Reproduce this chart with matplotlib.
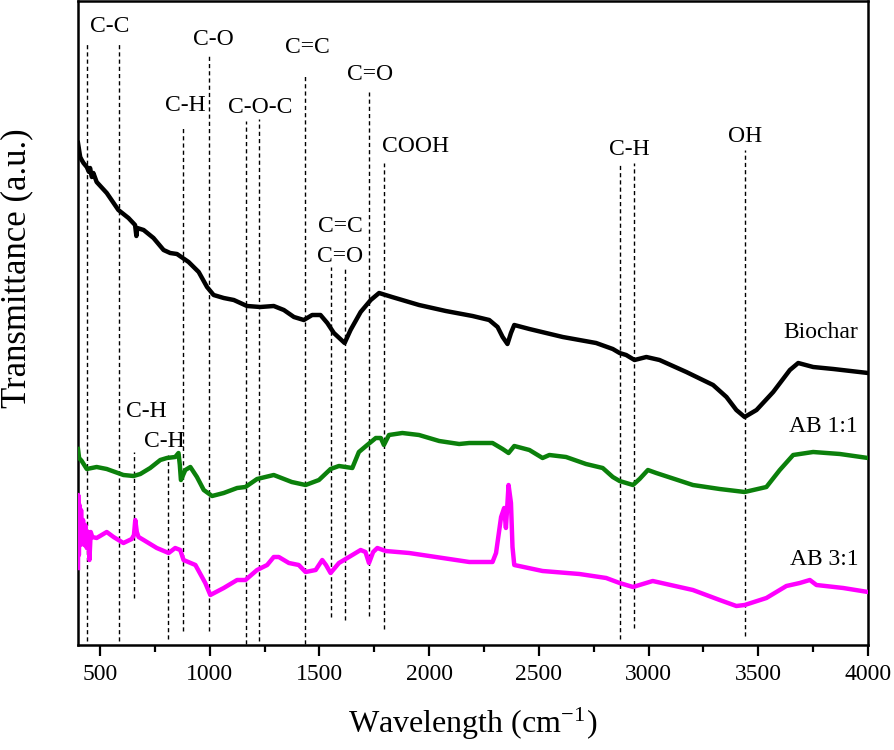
import matplotlib
matplotlib.use("Agg")
import matplotlib.pyplot as plt
import numpy as np

plt.rcParams['font.family'] = ['Liberation Serif', 'DejaVu Serif']
plt.rcParams['mathtext.fontset'] = 'stix'

# ---- data (wavenumber, transmittance in arbitrary units) ----
biochar_x = [400, 405, 410, 417, 425, 440, 450, 455, 463, 470, 485, 531, 584, 630, 660, 666, 670,
             699, 744, 790, 820, 851, 904, 950, 988, 1018, 1064, 1110, 1170, 1231, 1292, 1338,
             1384, 1429, 1467, 1505, 1536, 1566, 1615, 1642, 1688, 1734, 1772, 1831, 1954, 2076,
             2198, 2274, 2312, 2335, 2357, 2373, 2388, 2457, 2609, 2761, 2837, 2868, 2898, 2936,
             2990, 3050, 3172, 3294, 3355, 3400, 3438, 3492, 3568, 3644, 3682, 3750, 3842, 4000]
biochar_y = [502, 495, 488, 485, 482, 478, 473, 477, 468, 472, 463, 452, 435, 427, 420, 409, 417,
             415, 407, 395, 392, 391, 383, 373, 358, 350, 347, 345, 339, 338, 339, 335,
             328, 325, 330, 330, 322, 312, 302, 315, 333, 345, 352, 348, 340, 334,
             329, 325, 318, 308, 301, 312, 320, 316, 308, 302, 296, 292, 290, 285,
             288, 285, 273, 260, 248, 235, 228, 235, 253, 275, 282, 278, 276, 272]

ab11_x = [400, 405, 417, 440, 485, 531, 607, 653, 684, 729, 775, 805, 843, 858, 864, 869, 889, 912,
          942, 973, 1011, 1064, 1125, 1163, 1216, 1292, 1374, 1437, 1498, 1551, 1589, 1650, 1680,
          1718, 1757, 1780, 1794, 1817, 1878, 1954, 2046, 2137, 2183, 2289, 2335, 2362, 2388,
          2457, 2517, 2548, 2624, 2715, 2791, 2837, 2868, 2929, 2959, 2997, 3035, 3202, 3324,
          3438, 3537, 3598, 3659, 3750, 3872, 4000]
ab11_y = [196, 187, 184, 176, 178, 176, 170, 169, 171, 177, 185, 187, 188, 192, 180, 165, 175, 178,
          168, 155, 149, 152, 157, 158, 166, 170, 163, 160, 165, 176, 179, 177, 193,
          200, 207, 207, 200, 210, 212, 210, 204, 201, 202, 202, 196, 192, 199,
          195, 187, 190, 188, 181, 177, 168, 164, 160, 166, 175, 172, 160, 156,
          153, 158, 175, 190, 193, 191, 187]

ab31_x = [400, 401, 404, 407, 410, 414, 418, 423, 428, 433, 440, 446, 452, 458, 465, 485, 531, 562,
          607, 645, 655, 661, 668, 676, 699, 759, 813, 843, 866, 881, 935, 980, 1003, 1064, 1125,
          1163, 1216, 1262, 1292, 1315, 1361, 1406, 1437, 1483, 1513, 1530, 1551, 1589, 1635,
          1688, 1710, 1726, 1745, 1764, 1802, 1909, 2031, 2183, 2289, 2305, 2328, 2342, 2350,
          2362, 2373, 2380, 2388, 2517, 2685, 2807, 2868, 2929, 3019, 3202, 3324, 3400, 3438,
          3537, 3628, 3689, 3735, 3765, 3887, 4000]
ab31_y = [77, 150, 90, 140, 100, 135, 105, 125, 100, 120, 97, 113, 85, 113, 108, 107, 113, 108,
          102, 106, 110, 125, 113, 108, 105, 97, 92, 97, 95, 85, 80, 62, 50, 57, 65,
          65, 75, 80, 88, 88, 82, 80, 73, 75, 85, 80, 72, 82, 88,
          95, 93, 82, 93, 97, 94, 92, 88, 83, 83, 92, 128, 137, 117,
          160, 142, 98, 80, 74, 71, 67, 62, 58, 64, 55, 45, 39, 40,
          47, 59, 62, 65, 60, 57, 53]

# band marker lines: wavenumber, top, bottom (same units as y)
band_x = [443, 589, 653, 808, 877, 996, 1164, 1224, 1434, 1552, 1616, 1726, 1794, 2868, 2932, 3438]
band_top = [602, 602, 193, 190, 517, 591, 524, 526, 570, 378, 377, 553, 482, 482, 482, 495]
band_bot = [4, 4, 47, 6, 14, 14, 1, 4, 1, 28, 25, 29, 16, 6, 17, 9]

# band labels
lab_text = ['C-C', 'C-O', 'C-H', 'C-O-C', 'C=C', 'C=O', 'COOH', 'C-H', 'OH', 'C=C', 'C=O', 'C-H', 'C-H']
lab_x = [546, 1018, 890, 1228, 1447, 1730, 1936, 2914, 3439, 1594, 1594, 712, 792]
lab_y = [613, 600, 534, 532, 592, 565, 493, 490, 503, 413, 383, 228, 198]

series_names = ['Biochar', 'AB 1:1', 'AB 3:1']
series_label_y = [307, 213, 80]

xticks = [500, 1000, 1500, 2000, 2500, 3000, 3500, 4000]

# ---- figure ----
fig = plt.figure(figsize=(8.95, 7.5), dpi=100)
ax = fig.add_axes([78/895, (750-645)/750, (868-78)/895, 644/750])

for bx, bt, bb in zip(band_x, band_top, band_bot):
    ax.plot([bx, bx], [bb, bt], color='black', lw=1.0, linestyle=(0, (3, 2.2)), zorder=1)

ax.plot(biochar_x, biochar_y, color='black', lw=3.2, zorder=3, solid_joinstyle='round')
ax.plot(ab11_x, ab11_y, color='#0b800b', lw=3.2, zorder=3, solid_joinstyle='round')
ax.plot(ab31_x, ab31_y, color='#ff00ff', lw=3.2, zorder=3, solid_joinstyle='round')

for t, x, y in zip(lab_text, lab_x, lab_y):
    ax.text(x, y, t, ha='center', va='baseline', fontsize=17)

for name, y in zip(series_names, series_label_y):
    ax.text(3955, y, name, ha='right', va='baseline', fontsize=17)

ax.set_xlim(400, 4000)
ax.set_ylim(0, 644)
ax.set_xticks(xticks)
ax.set_xticks(np.arange(750, 4000, 500), minor=True)
ax.set_yticks([])
ax.tick_params(axis='x', which='major', direction='out', length=8, width=1.6, labelsize=17, pad=6)
ax.tick_params(axis='x', which='minor', direction='out', length=5, width=1.6)
for s in ax.spines.values():
    s.set_linewidth(1.8)

ax.set_xlabel('Wavelength (cm$^{\\mathregular{-1}}$)', fontsize=23, labelpad=14)
ax.set_ylabel('Transmittance (a.u.)', fontsize=25)
ax.yaxis.set_label_coords(-0.056, 0.585)

fig.savefig('out.png', dpi=100)
